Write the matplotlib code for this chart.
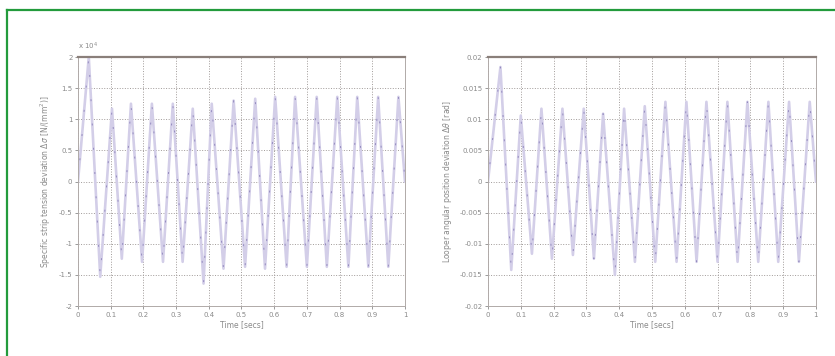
import matplotlib
matplotlib.use("Agg")
import matplotlib.pyplot as plt
from matplotlib.lines import Line2D

# extrema (time in s)
tTension = [0.0, 0.033, 0.068, 0.104, 0.134, 0.162, 0.196, 0.226, 0.26, 0.29, 0.32,
            0.351, 0.384, 0.409, 0.445, 0.476, 0.511, 0.542, 0.572, 0.603, 0.638,
            0.664, 0.70, 0.73, 0.761, 0.793, 0.827, 0.854, 0.888, 0.918, 0.949,
            0.98, 1.0]
tension = [0.0, 2.0, -1.53, 1.17, -1.24, 1.25, -1.29, 1.25, -1.29, 1.25, -1.29,
           1.17, -1.64, 1.25, -1.40, 1.30, -1.37, 1.33, -1.40, 1.36, -1.37,
           1.36, -1.37, 1.36, -1.37, 1.36, -1.37, 1.36, -1.37, 1.36, -1.37,
           1.36, 0.0]

tAngle = [0.0, 0.038, 0.071, 0.10, 0.134, 0.163, 0.195, 0.227, 0.259, 0.292, 0.323,
          0.351, 0.387, 0.415, 0.448, 0.478, 0.51, 0.541, 0.575, 0.605, 0.636,
          0.666, 0.70, 0.73, 0.761, 0.791, 0.824, 0.855, 0.885, 0.918, 0.948,
          0.981, 1.0]
angle = [0.0, 0.0184, -0.0142, 0.0106, -0.0116, 0.0117, -0.0124, 0.0117, -0.0118,
         0.0117, -0.0124, 0.0109, -0.015, 0.0117, -0.0129, 0.0121, -0.0129, 0.0128,
         -0.0129, 0.0128, -0.0129, 0.0128, -0.0129, 0.0128, -0.0129, 0.0128,
         -0.0129, 0.0128, -0.0129, 0.0128, -0.0129, 0.0128, 0.0]

xTicks = [0, 0.1, 0.2, 0.3, 0.4, 0.5, 0.6, 0.7, 0.8, 0.9, 1]
xTickLabels = ["0", "0.1", "0.2", "0.3", "0.4", "0.5", "0.6", "0.7", "0.8", "0.9", "1"]
yTicksL = [-2, -1.5, -1, -0.5, 0, 0.5, 1, 1.5, 2]
yTickLabelsL = ["-2", "-1.5", "-1", "-0.5", "0", "0.5", "1", "1.5", "2"]
yTicksR = [-0.02, -0.015, -0.01, -0.005, 0, 0.005, 0.01, 0.015, 0.02]
yTickLabelsR = ["-0.02", "-0.015", "-0.01", "-0.005", "0", "0.005", "0.01", "0.015", "0.02"]

lineCol = "#d3cee8"
darkCol = "#7a6fae"
txtCol = "#8a8a8a"


def styleAxes(ax, yTicks, yLabels, yLab):
    ax.set_xlim(0, 1)
    ax.set_ylim(yTicks[0], yTicks[-1])
    ax.set_xticks(xTicks)
    ax.set_xticklabels(xTickLabels)
    ax.set_yticks(yTicks)
    ax.set_yticklabels(yLabels)
    ax.tick_params(labelsize=5, colors=txtCol, length=2, width=0.6, pad=2)
    ax.grid(True, linestyle=":", color="#a09a98", linewidth=0.7)
    for s in ["left", "right", "bottom"]:
        ax.spines[s].set_color("#b0aaa8")
        ax.spines[s].set_linewidth(0.7)
    ax.spines["top"].set_color("#8a7f7a")
    ax.spines["top"].set_linewidth(1.6)
    ax.set_xlabel("Time [secs]", fontsize=5.5, color=txtCol, labelpad=2)
    ax.set_ylabel(yLab, fontsize=5.5, color=txtCol, labelpad=4)


fig = plt.figure(figsize=(8.35, 3.56), dpi=100)

ax1 = fig.add_axes([0.0934, 0.1404, 0.3916, 0.6994])
ax1.plot(tTension, tension, color=lineCol, lw=1.9, solid_joinstyle="round")
ax1.plot(tTension, tension, color=darkCol, lw=0.7, linestyle=(3, (2, 23)), alpha=0.7)
styleAxes(ax1, yTicksL, yTickLabelsL,
          "Specific strip tension deviation $\\Delta\\sigma$ [N/(mm$^2$)]")
ax1.text(0.0, 1.02, "x 10$^4$", transform=ax1.transAxes, fontsize=5,
         color=txtCol, ha="left", va="bottom")

ax2 = fig.add_axes([0.5844, 0.1404, 0.3928, 0.6994])
ax2.plot(tAngle, angle, color=lineCol, lw=1.9, solid_joinstyle="round")
ax2.plot(tAngle, angle, color=darkCol, lw=0.7, linestyle=(7, (2, 23)), alpha=0.7)
styleAxes(ax2, yTicksR, yTickLabelsR,
          "Looper angular position deviation $\\Delta\\theta$ [rad]")

# green frame
fig.add_artist(Line2D([7 / 835, 7 / 835], [0, 1 - 10 / 356], color="#239b3c",
                      lw=1.6, transform=fig.transFigure))
fig.add_artist(Line2D([7 / 835, 1], [1 - 10 / 356, 1 - 10 / 356], color="#239b3c",
                      lw=1.6, transform=fig.transFigure))

fig.savefig("out.png", dpi=100)
